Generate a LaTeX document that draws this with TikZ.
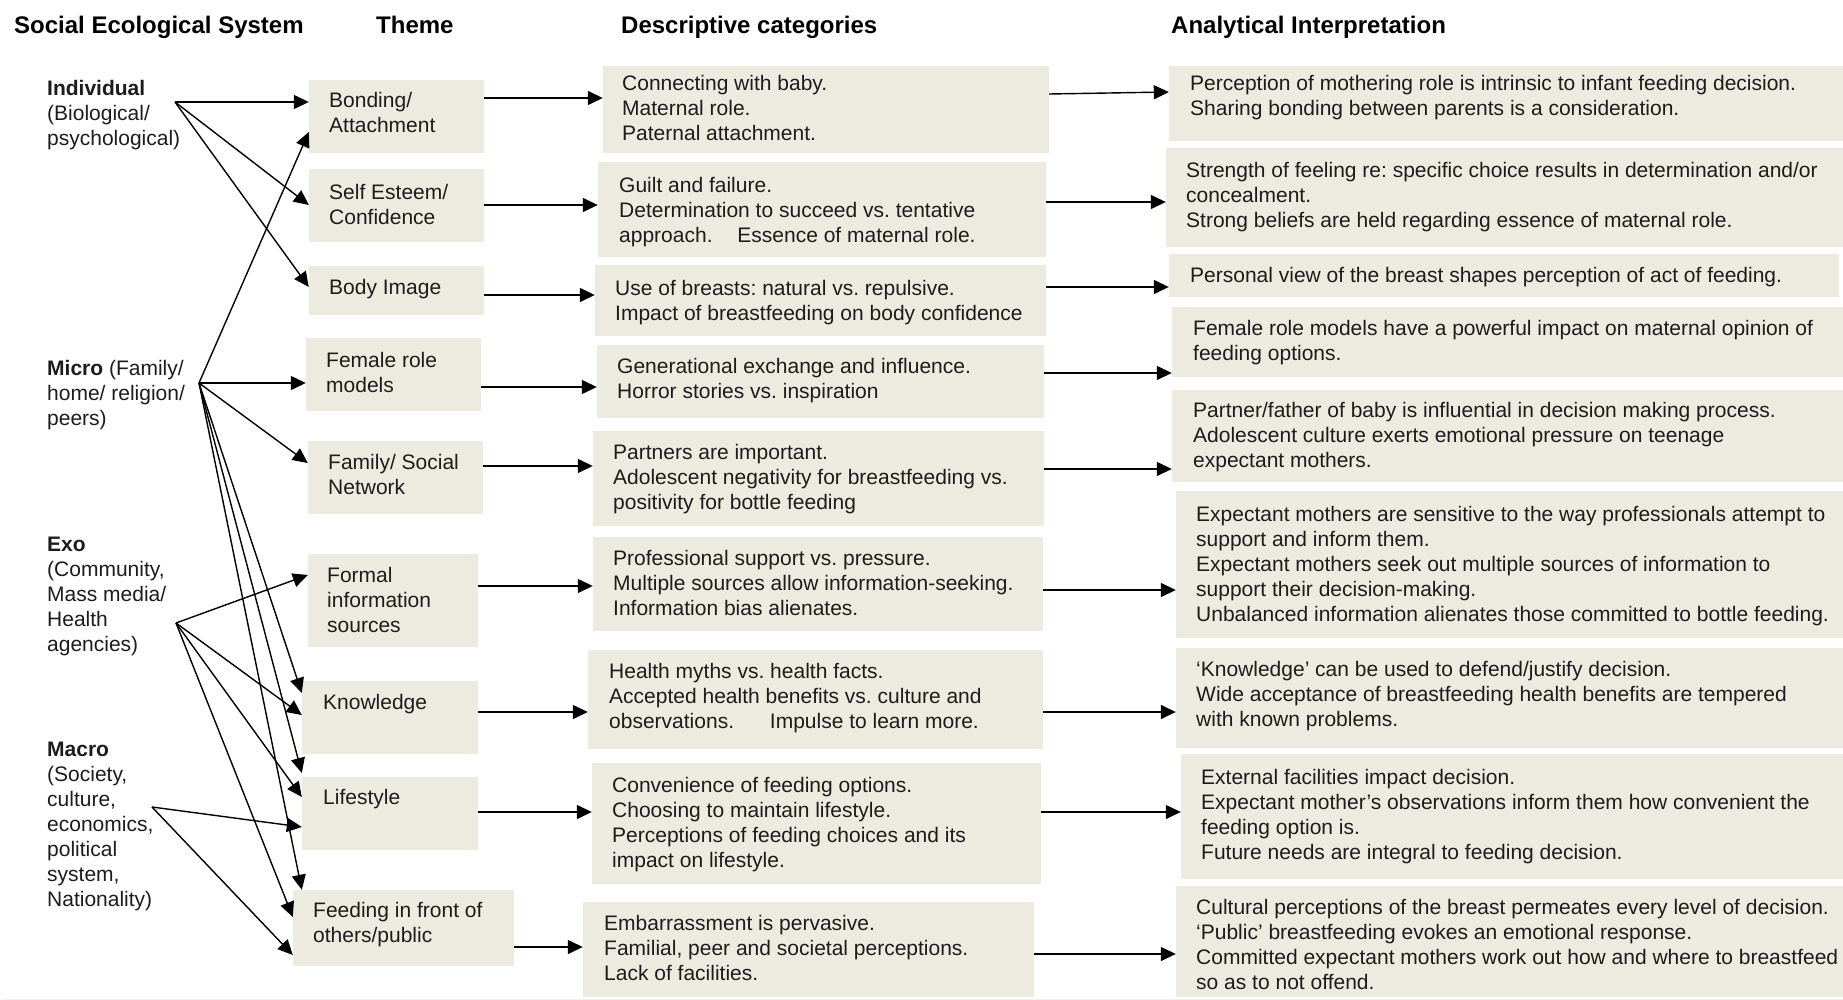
\documentclass[tikz,border=0pt]{standalone}
\usepackage{fontspec}
\setmainfont{Liberation Sans}
\usepackage{tikz}
\usetikzlibrary{arrows.meta}
\usetikzlibrary{fit}
\definecolor{boxbg}{HTML}{EDEBE0}
\definecolor{ink}{HTML}{1C1C1C}
\newcommand\bodysize{\fontsize{21}{25}\selectfont}
\newcommand\headsize{\fontsize{24}{28}\selectfont\bfseries}
\frenchspacing

\begin{document}
\begin{tikzpicture}[x=1pt, y=-1pt,
		box/.style={fill=boxbg, inner sep=0pt},
		txt/.style={anchor=north west, inner sep=0pt, align=left, text=ink, font=\bodysize},
		head/.style={anchor=base west, inner sep=0pt, font=\headsize},
		arr/.style={draw, -{Triangle[length=15pt,width=14pt]}, line width=1.4pt}]
		\useasboundingbox (0,0) rectangle (1843,1000);
		\draw[gray!12, line width=1pt] (2,999) -- (1843,999);
		% column heads
		\node[head] (Hses) at (14,34) {Social Ecological System};
		\node[head] (Htheme) at (376,34) {Theme};
		\node[head] (Hdesc) at (621,34) {Descriptive categories};
		\node[head] (Hanal) at (1171,34) {Analytical Interpretation};
		% social ecological levels
		\node[txt] (Indiv) at (47,80) {\textbf{Individual}\\(Biological/\\psychological)};
		\node[txt] (Micro) at (47,360) {\textbf{Micro} (Family/\\home/ religion/\\peers)};
		\node[txt] (Exo) at (47,537) {\textbf{Exo}\\(Community,\\Mass media/\\Health\\agencies)};
		\node[txt] (Macro) at (47,742) {\textbf{Macro}\\(Society,\\culture,\\economics,\\political\\system,\\Nationality)};
		\coordinate (Indivpt) at (175,102);
		\coordinate (Micropt) at (199,383);
		\coordinate (Exopt) at (176,623);
		\coordinate (Macropt) at (152,807);
		% themes
		\node[box, fit={(309,80) (484,153)}] (Bond) {};
		\node[box, fit={(309,169) (484,242)}] (Self) {};
		\node[box, fit={(309,266) (484,315)}] (Body) {};
		\node[box, fit={(306,338) (481,411)}] (Role) {};
		\node[box, fit={(308,441) (483,514)}] (Fam) {};
		\node[box, fit={(308,554) (478,647)}] (Info) {};
		\node[box, fit={(302,681) (478,754)}] (Know) {};
		\node[box, fit={(302,777) (478,850)}] (Life) {};
		\node[box, fit={(293,890) (514,966)}] (Feed) {};
		\node[txt] (Bondtxt) at (329,92) {Bonding/\\Attachment};
		\node[txt] (Selftxt) at (329,184) {Self Esteem/\\Confidence};
		\node[txt] (Bodytxt) at (329,279) {Body Image};
		\node[txt] (Roletxt) at (326,352) {Female role\\models};
		\node[txt] (Famtxt) at (328,454) {Family/ Social\\Network};
		\node[txt] (Infotxt) at (327,567) {Formal\\information\\sources};
		\node[txt] (Knowtxt) at (323,694) {Knowledge};
		\node[txt] (Lifetxt) at (323,789) {Lifestyle};
		\node[txt] (Feedtxt) at (313,902) {Feeding in front of\\others/public};
		% descriptive categories
		\node[box, fit={(603,66) (1049,153)}] (dBond) {};
		\node[box, fit={(598,162) (1046,257)}] (dSelf) {};
		\node[box, fit={(595,265) (1046,336)}] (dBody) {};
		\node[box, fit={(597,345) (1044,418)}] (dRole) {};
		\node[box, fit={(593,431) (1044,526)}] (dFam) {};
		\node[box, fit={(593,537) (1043,631)}] (dInfo) {};
		\node[box, fit={(588,650) (1043,749)}] (dKnow) {};
		\node[box, fit={(592,763) (1041,884)}] (dLife) {};
		\node[box, fit={(583,902) (1034,997)}] (dFeed) {};
		\node[txt] (dBondtxt) at (622,75) {Connecting with baby.\\Maternal role.\\Paternal attachment.};
		\node[txt] (dSelftxt) at (619,177) {Guilt and failure.\\Determination to succeed vs. tentative\\approach.\hspace{19pt} Essence of maternal role.};
		\node[txt] (dBodytxt) at (615,280) {Use of breasts: natural vs. repulsive.\\Impact of breastfeeding on body confidence};
		\node[txt] (dRoletxt) at (617,358) {Generational exchange and influence.\\Horror stories vs. inspiration};
		\node[txt] (dFamtxt) at (613,444) {Partners are important.\\Adolescent negativity for breastfeeding vs.\\positivity for bottle feeding};
		\node[txt] (dInfotxt) at (613,550) {Professional support vs. pressure.\\Multiple sources allow information-seeking.\\Information bias alienates.};
		\node[txt] (dKnowtxt) at (609,663) {Health myths vs. health facts.\\Accepted health benefits vs. culture and\\observations.\hspace{30pt} Impulse to learn more.};
		\node[txt] (dLifetxt) at (612,777) {Convenience of feeding options.\\Choosing to maintain lifestyle.\\Perceptions of feeding choices and its\\impact on lifestyle.};
		\node[txt] (dFeedtxt) at (604,915) {Embarrassment is pervasive.\\Familial, peer and societal perceptions.\\Lack of facilities.};
		% analytical interpretation
		\node[box, fit={(1169,66) (1843,141)}] (aBond) {};
		\node[box, fit={(1166,148) (1843,247)}] (aSelf) {};
		\node[box, fit={(1169,254) (1839,297)}] (aBody) {};
		\node[box, fit={(1172,307) (1843,377)}] (aRole) {};
		\node[box, fit={(1172,390) (1843,482)}] (aFam) {};
		\node[box, fit={(1176,491) (1843,638)}] (aInfo) {};
		\node[box, fit={(1176,648) (1843,748)}] (aKnow) {};
		\node[box, fit={(1181,754) (1843,879)}] (aLife) {};
		\node[box, fit={(1176,886) (1843,997)}] (aFeed) {};
		\node[txt] (aBondtxt) at (1190,75) {Perception of mothering role is intrinsic to infant feeding decision.\\Sharing bonding between parents is a consideration.};
		\node[txt] (aSelftxt) at (1186,162) {Strength of feeling re: specific choice results in determination and/or\\concealment.\\Strong beliefs are held regarding essence of maternal role.};
		\node[txt] (aBodytxt) at (1190,267) {Personal view of the breast shapes perception of act of feeding.};
		\node[txt] (aRoletxt) at (1193,320) {Female role models have a powerful impact on maternal opinion of\\feeding options.};
		\node[txt] (aFamtxt) at (1193,402) {Partner/father of baby is influential in decision making process.\\Adolescent culture exerts emotional pressure on teenage\\expectant mothers.};
		\node[txt] (aInfotxt) at (1196,506) {Expectant mothers are sensitive to the way professionals attempt to\\support and inform them.\\Expectant mothers seek out multiple sources of information to\\support their decision-making.\\Unbalanced information alienates those committed to bottle feeding.};
		\node[txt] (aKnowtxt) at (1196,661) {‘Knowledge’ can be used to defend/justify decision.\\Wide acceptance of breastfeeding health benefits are tempered\\with known problems.};
		\node[txt] (aLifetxt) at (1201,769) {External facilities impact decision.\\Expectant mother’s observations inform them how convenient the\\feeding option is.\\Future needs are integral to feeding decision.};
		\node[txt] (aFeedtxt) at (1196,899) {Cultural perceptions of the breast permeates every level of decision.\\‘Public’ breastfeeding evokes an emotional response.\\Committed expectant mothers work out how and where to breastfeed\\so as to not offend.};
		% levels to themes
		\path (Indivpt) edge[arr] (Bond.west |- 0,102) edge[arr] (Self.west |- 0,205) edge[arr] (Body.west |- 0,287);
		\path (Micropt) edge[arr] (Bond.west |- 0,132) edge[arr] (Role.west |- 0,383) edge[arr] (Fam.west |- 0,463)
		edge[arr] (Know.west |- 0,693) edge[arr] (Life.west |- 0,773) edge[arr] ([xshift=9pt]Feed.north west);
		\path (Exopt) edge[arr] (Info.west |- 0,575) edge[arr] (Know.west |- 0,715) edge[arr] (Life.west |- 0,797) edge[arr] (Feed.west |- 0,917);
		\path (Macropt) edge[arr] (Life.west |- 0,827) edge[arr] (Feed.west |- 0,955);
		% themes to descriptive categories
		\draw[arr] (Bond.east |- 0,98) -- (dBond.west |- 0,98);
		\draw[arr] (Self.east |- 0,205) -- (dSelf.west |- 0,205);
		\draw[arr] (Body.east |- 0,295) -- (dBody.west |- 0,295);
		\draw[arr] (Role.east |- 0,387) -- (dRole.west |- 0,387);
		\draw[arr] (Fam.east |- 0,466) -- (dFam.west |- 0,466);
		\draw[arr] (Info.east |- 0,586) -- (dInfo.west |- 0,586);
		\draw[arr] (Know.east |- 0,712) -- (dKnow.west |- 0,712);
		\draw[arr] (Life.east |- 0,812) -- (dLife.west |- 0,812);
		\draw[arr] (Feed.east |- 0,947) -- (dFeed.west |- 0,947);
		% descriptive categories to interpretation
		\draw[arr] (dBond.east |- 0,94) -- (aBond.west |- 0,92);
		\draw[arr] (dSelf.east |- 0,202) -- (aSelf.west |- 0,202);
		\draw[arr] (dBody.east |- 0,287) -- (aBody.west |- 0,287);
		\draw[arr] (dRole.east |- 0,373) -- (aRole.west |- 0,373);
		\draw[arr] (dFam.east |- 0,469) -- (aFam.west |- 0,469);
		\draw[arr] (dInfo.east |- 0,590) -- (aInfo.west |- 0,590);
		\draw[arr] (dKnow.east |- 0,712) -- (aKnow.west |- 0,712);
		\draw[arr] (dLife.east |- 0,812) -- (aLife.west |- 0,812);
		\draw[arr] (dFeed.east |- 0,954) -- (aFeed.west |- 0,954);
\end{tikzpicture}
\end{document}
